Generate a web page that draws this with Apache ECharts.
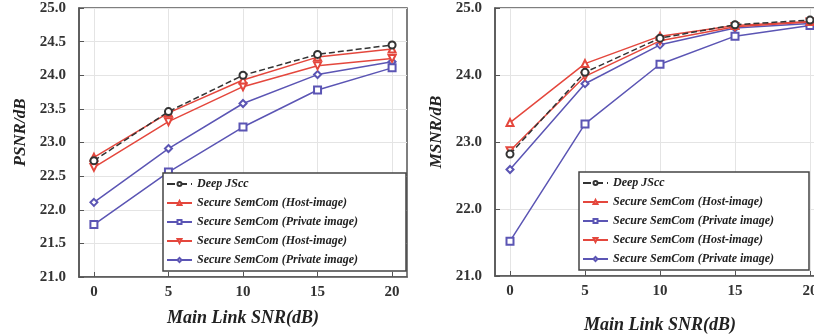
<!DOCTYPE html>
<html lang="en">
<head>
    <meta charset="UTF-8">
    <title>PSNR / MSNR vs Main Link SNR</title>
    <script src="https://cdn.jsdelivr.net/npm/echarts@6.0.0/dist/echarts.min.js"></script>
</head>
<body style="margin:0;background:#fff;">
<div id="main" style="width:814px;height:336px;"></div>
<script>
    // x positions (Main Link SNR, dB)
    var snr = [0, 5, 10, 15, 20];
    var xTicks = [0, 5, 10, 15, 20];

    // legend labels (two pairs share the same text in the figure)
    var labels = ['Deep JScc', 'Secure SemCom (Host-image)', 'Secure SemCom (Private image)',
                  'Secure SemCom (Host-image)', 'Secure SemCom (Private image)'];
    var keys = ['deep', 'hostA', 'privA', 'hostB', 'privB'];

    // left panel: PSNR
    var psnrDeep  = [22.73, 23.46, 24.00, 24.31, 24.45];
    var psnrHostA = [22.78, 23.44, 23.93, 24.27, 24.39];
    var psnrPrivA = [21.78, 22.56, 23.23, 23.78, 24.11];
    var psnrHostB = [22.63, 23.31, 23.83, 24.14, 24.25];
    var psnrPrivB = [22.11, 22.91, 23.58, 24.01, 24.20];

    // right panel: MSNR
    var msnrDeep  = [22.82, 24.04, 24.55, 24.75, 24.82];
    var msnrHostA = [23.29, 24.17, 24.58, 24.74, 24.80];
    var msnrPrivA = [21.52, 23.27, 24.16, 24.58, 24.74];
    var msnrHostB = [22.87, 23.98, 24.51, 24.72, 24.79];
    var msnrPrivB = [22.59, 23.87, 24.45, 24.70, 24.77];

    var red = '#e4473d';
    var blue = '#5b55b4';
    var styles = {
        deep:  {color: '#333333', symbol: 'emptyCircle', rot: 0, type: 'dashed'},
        hostA: {color: red, symbol: 'emptyTriangle', rot: 0, type: 'solid'},
        privA: {color: blue, symbol: 'emptyRect', rot: 0, type: 'solid'},
        hostB: {color: red, symbol: 'emptyTriangle', rot: 180, type: 'solid'},
        privB: {color: blue, symbol: 'emptyDiamond', rot: 0, type: 'solid'}
    };

    function pairs(vals) {
        return snr.map(function (x, i) { return [x, vals[i]]; });
    }

    function makeSeries(idx, lists) {
        return keys.map(function (k, i) {
            var s = styles[k];
            return {
                name: k,
                type: 'line',
                xAxisIndex: idx,
                yAxisIndex: idx,
                data: pairs(lists[i]),
                symbol: s.symbol,
                symbolRotate: s.rot,
                symbolSize: 7,
                showAllSymbol: true,
                color: s.color,
                lineStyle: {width: 1.5, type: s.type, color: s.color},
                itemStyle: {color: s.color, borderWidth: 1.2},
                z: 5 - i
            };
        });
    }

    var tickFont = {fontFamily: 'Liberation Serif', fontWeight: 'bold', fontSize: 15, color: '#333'};
    var titleFont = {fontFamily: 'Liberation Serif', fontWeight: 'bold', fontStyle: 'italic', fontSize: 18, color: '#222'};

    function xAxisOpt(gi, gap) {
        return {
            gridIndex: gi, type: 'value', min: -1, max: 21,
            name: 'Main Link SNR(dB)', nameLocation: 'middle', nameGap: gap,
            nameTextStyle: titleFont,
            axisLine: {onZero: false, lineStyle: {color: '#555', width: 1.5}},
            axisTick: {inside: true, length: 5, customValues: xTicks, lineStyle: {color: '#555'}},
            axisLabel: Object.assign({customValues: xTicks, margin: 8}, tickFont),
            splitLine: {show: true, lineStyle: {color: '#e4e4e4', width: 1}}
        };
    }

    function yAxisOpt(gi, name, interval) {
        return {
            gridIndex: gi, type: 'value', min: 21, max: 25, interval: interval,
            name: name, nameLocation: 'middle', nameGap: 50, nameRotate: 90,
            nameTextStyle: Object.assign({}, titleFont, {fontSize: 17, padding: [0, 0, 0, 20]}),
            axisLine: {onZero: false, lineStyle: {color: '#555', width: 1.5}},
            axisTick: {inside: true, length: 5, lineStyle: {color: '#555'}},
            axisLabel: Object.assign({margin: 13, formatter: function (v) { return v.toFixed(1); }}, tickFont),
            splitLine: {show: true, lineStyle: {color: '#e4e4e4', width: 1}}
        };
    }

    function legendOpt(left, top, textWidth) {
        return {
            orient: 'vertical', left: left, top: top,
            data: keys,
            formatter: function (n) { return labels[keys.indexOf(n)]; },
            itemWidth: 25, itemHeight: 5, itemGap: 5, itemTextGap: 3,
            padding: [4, 6, 4, 3],
            backgroundColor: '#fff', borderColor: '#444', borderWidth: 1.5,
            textStyle: {fontFamily: 'Liberation Serif', fontWeight: 'bold', fontStyle: 'italic',
                        fontSize: 12, color: '#222', lineHeight: 14, width: textWidth},
            selectedMode: false
        };
    }

    var myChart = echarts.init(document.getElementById('main'));

    var option = {
        backgroundColor: '#fff',
        animation: false,
        grid: [
            {left: 79, top: 8, width: 328, height: 269, outerBoundsMode: 'none', show: true,
             borderColor: '#555', borderWidth: 1.5, backgroundColor: '#fff'},
            {left: 495, top: 8, width: 330, height: 268, outerBoundsMode: 'none', show: true,
             borderColor: '#555', borderWidth: 1.5, backgroundColor: '#fff'}
        ],
        xAxis: [xAxisOpt(0, 32), xAxisOpt(1, 40)],
        yAxis: [yAxisOpt(0, 'PSNR/dB', 0.5), yAxisOpt(1, 'MSNR/dB', 1)],
        legend: [legendOpt(163, 173, 203), legendOpt(579, 172, 190)],
        series: makeSeries(0, [psnrDeep, psnrHostA, psnrPrivA, psnrHostB, psnrPrivB])
            .concat(makeSeries(1, [msnrDeep, msnrHostA, msnrPrivA, msnrHostB, msnrPrivB]))
    };

    myChart.setOption(option);
</script>
</body>
</html>
